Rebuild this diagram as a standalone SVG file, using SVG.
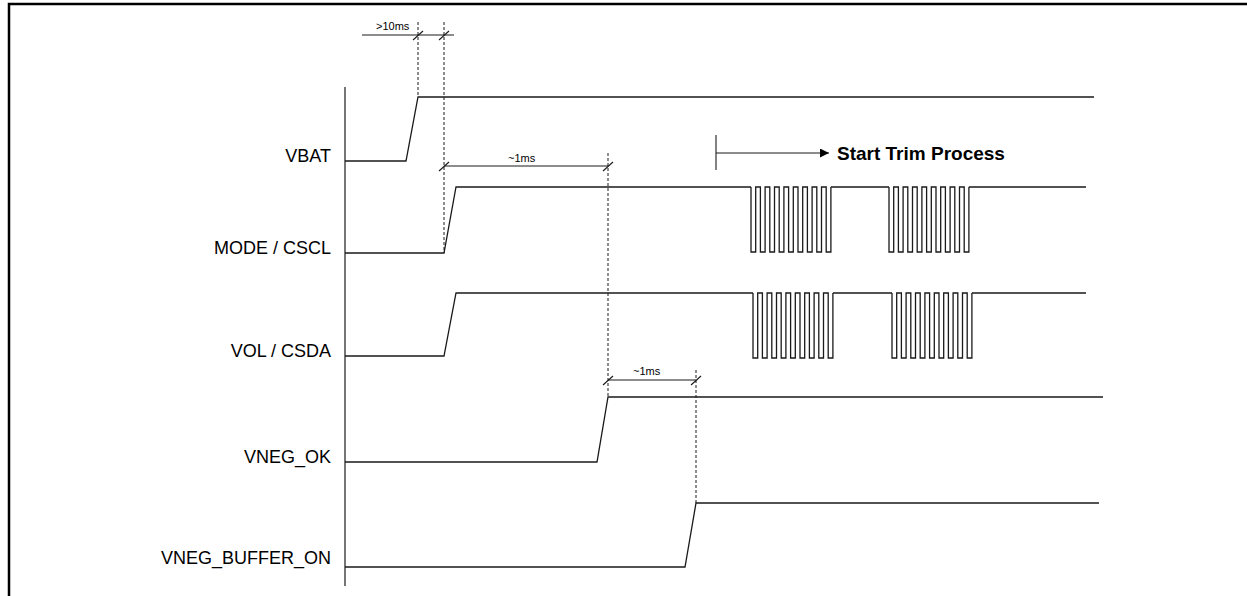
<svg xmlns="http://www.w3.org/2000/svg" xmlns:xlink="http://www.w3.org/1999/xlink" width="1247" height="596" viewBox="0 0 1247 596">
<style>
.sig{fill:none;stroke:#1a1a1a;stroke-width:1.3;stroke-linejoin:miter}
.dash{fill:none;stroke:#1a1a1a;stroke-width:1;stroke-dasharray:3 2}
.dim{fill:none;stroke:#1a1a1a;stroke-width:1.1}
.lbl{font-family:"Liberation Sans",Arial,sans-serif;font-size:18px;fill:#000;text-anchor:end}
.small{font-family:"Liberation Sans",Arial,sans-serif;font-size:11px;fill:#000}
.bold{font-family:"Liberation Sans",Arial,sans-serif;font-size:19px;font-weight:bold;fill:#000}
</style>
<defs>
<path id="train" d="M0,0 v65 h4.7 v-65 h4.7 v65 h4.7 v-65 h4.7 v65 h4.7 v-65 h4.7 v65 h4.7 v-65 h4.7 v65 h4.7 v-65 h4.7 v65 h4.7 v-65 h4.7 v65 h4.7 v-65 h4.7 v65 h4.7 v-65 h4.7 v65 h4.7 v-65"/>
<marker id="arr" viewBox="0 0 10 10" refX="10" refY="5" markerWidth="15" markerHeight="9" markerUnits="userSpaceOnUse" orient="auto"><path d="M0,0 L10,5 L0,10 Z" fill="#000"/></marker>
</defs>
<rect width="1247" height="596" fill="#fff"/>
<path d="M9,620 V4 H1260" fill="none" stroke="#000" stroke-width="2.5"/>
<line x1="345" y1="87" x2="345" y2="586" stroke="#1a1a1a" stroke-width="1.2"/>

<g id="vbat">
<text class="lbl" x="331" y="162">VBAT</text>
<path class="sig" d="M345,161 H406 L418,97 H1094"/>
</g>
<g id="mode-cscl">
<text class="lbl" x="331" y="254">MODE / CSCL</text>
<path class="sig" d="M345,253 H444 L456,187 H751 M830.9,187 H889 M968.9,187 H1086"/>
<use xlink:href="#train" href="#train" class="sig" x="751" y="187"/>
<use xlink:href="#train" href="#train" class="sig" x="889" y="187"/>
</g>
<g id="vol-csda">
<text class="lbl" x="331" y="357">VOL / CSDA</text>
<path class="sig" d="M345,356 H444 L456,293 H753 M832.9,293 H892 M971.9,293 H1086"/>
<use xlink:href="#train" href="#train" class="sig" x="753" y="293"/>
<use xlink:href="#train" href="#train" class="sig" x="892" y="293"/>
</g>
<g id="vneg-ok">
<text class="lbl" x="331" y="463">VNEG_OK</text>
<path class="sig" d="M345,462 H597 L608,397 H1103"/>
</g>
<g id="vneg-buffer-on">
<text class="lbl" x="331" y="564">VNEG_BUFFER_ON</text>
<path class="sig" d="M345,567 H685 L696,503 H1099"/>
</g>

<g id="connectors">
<line class="dash" x1="418" y1="22" x2="418" y2="97"/>
<line class="dash" x1="444" y1="22" x2="444" y2="253"/>
<line class="dash" x1="608" y1="153" x2="608" y2="397"/>
<line class="dash" x1="696" y1="370" x2="696" y2="503"/>
<line class="dim" x1="362" y1="35" x2="454" y2="35"/>
<line class="dim" x1="413" y1="40" x2="423" y2="31"/>
<line class="dim" x1="439" y1="40" x2="449" y2="31"/>
<line class="dim" x1="444" y1="166" x2="608" y2="166"/>
<line class="dim" x1="439" y1="171" x2="449" y2="162"/>
<line class="dim" x1="603" y1="171" x2="613" y2="162"/>
<line class="dim" x1="608" y1="380" x2="696" y2="380"/>
<line class="dim" x1="603" y1="385" x2="613" y2="376"/>
<line class="dim" x1="691" y1="385" x2="701" y2="376"/>
<line class="dim" x1="716" y1="135" x2="716" y2="170"/>
<line class="dim" x1="716" y1="153" x2="829" y2="153" marker-end="url(#arr)"/>
</g>
<text class="small" x="376" y="30">&gt;10ms</text>
<text class="small" x="508" y="162">~1ms</text>
<text class="small" x="633" y="375">~1ms</text>
<text class="bold" x="837" y="160">Start Trim Process</text>
</svg>
